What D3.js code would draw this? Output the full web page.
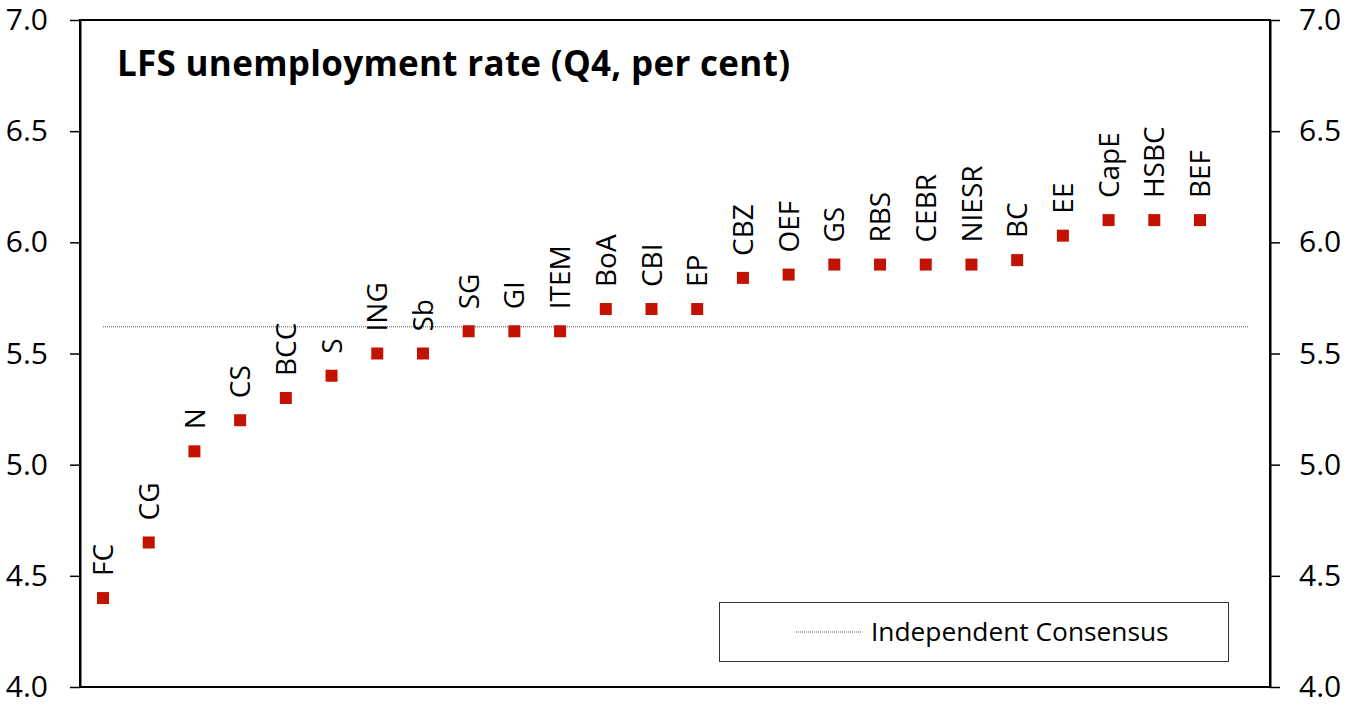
<!DOCTYPE html>
<html><head><meta charset="utf-8">
<script src="https://cdn.jsdelivr.net/npm/d3@7"></script>
<style>
html,body{margin:0;padding:0;background:#fff;}
svg{display:block;}
text{font-family:"Open Sans","Noto Sans",sans-serif;fill:#000;}
</style></head>
<body>
<svg id="chart" width="1347" height="713"></svg>
<script>
const categories = ["FC","CG","N","CS","BCC","S","ING","Sb","SG","GI","ITEM","BoA","CBI","EP","CBZ","OEF","GS","RBS","CEBR","NIESR","BC","EE","CapE","HSBC","BEF"];
const forecasts  = [4.4,4.65,5.06,5.2,5.3,5.4,5.5,5.5,5.6,5.6,5.6,5.7,5.7,5.7,5.84,5.855,5.9,5.9,5.9,5.9,5.92,6.03,6.1,6.1,6.1];
const consensus = 5.62;
const yTicks = [4.0,4.5,5.0,5.5,6.0,6.5,7.0];
const title = "LFS unemployment rate (Q4, per cent)";
const legendLabel = "Independent Consensus";

const svg = d3.select("#chart");
const L = 80, R = 1270, T = 20, B = 687;
const y = d3.scaleLinear().domain([4,7]).range([B,T]);
const x = d3.scalePoint().domain(categories).range([103,1200]);

// frame
svg.append("rect").attr("x",L).attr("y",T).attr("width",R-L).attr("height",B-T)
  .attr("fill","none").attr("stroke","#000").attr("stroke-width",2);

const fmt = d3.format(".1f");
const axL = svg.append("g").attr("transform",`translate(${L},0)`)
  .call(d3.axisLeft(y).tickValues(yTicks).tickFormat(fmt).tickSize(10).tickSizeOuter(0).tickPadding(22));
const axR = svg.append("g").attr("transform",`translate(${R},0)`)
  .call(d3.axisRight(y).tickValues(yTicks).tickFormat(fmt).tickSize(10).tickSizeOuter(0).tickPadding(19));
[axL,axR].forEach(a=>{
  a.select(".domain").attr("stroke","#000").attr("stroke-width",2);
  a.selectAll(".tick line").attr("stroke","#000").attr("stroke-width",1.5);
  a.selectAll(".tick text").attr("font-size",30).attr("font-family","'Open Sans','Noto Sans',sans-serif").attr("fill","#000");
});

// consensus line
svg.append("line").attr("x1",103).attr("x2",1248).attr("y1",y(consensus)).attr("y2",y(consensus))
  .attr("stroke","#555").attr("stroke-width",1).attr("stroke-dasharray","1,1");

// markers
svg.append("g").selectAll("rect").data(categories).join("rect")
  .attr("x",d=>x(d)-6).attr("y",(d,i)=>y(forecasts[i])-6)
  .attr("width",12).attr("height",12).attr("fill","#c41200");

// labels
svg.append("g").selectAll("text").data(categories).join("text")
  .attr("transform",(d,i)=>`translate(${x(d)},${y(forecasts[i])-22}) rotate(-90)`)
  .attr("dy","0.36em").attr("font-size",28).text(d=>d);

// title
svg.append("text").attr("x",117).attr("y",76).attr("font-size",35).attr("letter-spacing",0.3)
  .attr("font-weight","bold").text(title);

// legend
svg.append("rect").attr("x",719.5).attr("y",602.5).attr("width",509).attr("height",59)
  .attr("fill","#fff").attr("stroke","#333").attr("stroke-width",1);
svg.append("line").attr("x1",796).attr("x2",862).attr("y1",632).attr("y2",632)
  .attr("stroke","#555").attr("stroke-width",1).attr("stroke-dasharray","1,1");
svg.append("text").attr("x",871).attr("y",641).attr("font-size",26.3).text(legendLabel);
</script>
</body></html>
